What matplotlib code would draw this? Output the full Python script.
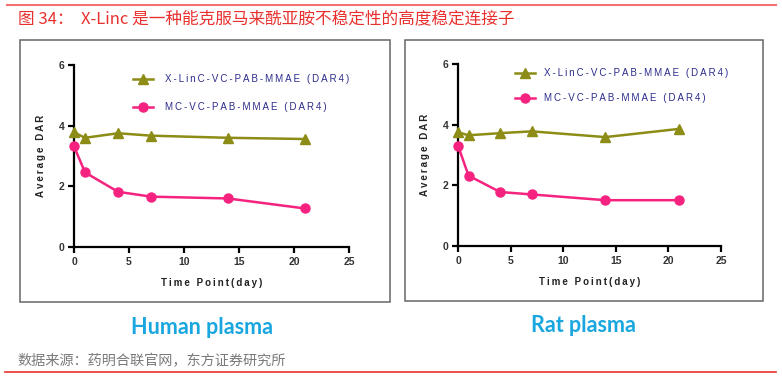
import matplotlib
matplotlib.use('Agg')
import matplotlib.pyplot as plt
from matplotlib.patches import Rectangle
from matplotlib.lines import Line2D

plt.rcParams['font.family'] = ['Noto Sans CJK SC', 'DejaVu Sans']

# data
days = [0, 1, 4, 7, 14, 21]
human_xlinc = [3.78, 3.60, 3.75, 3.67, 3.60, 3.56]
human_mc = [3.32, 2.46, 1.82, 1.66, 1.60, 1.27]
rat_xlinc = [3.75, 3.65, 3.72, 3.78, 3.59, 3.86]
rat_mc = [3.31, 2.32, 1.78, 1.70, 1.51, 1.51]

series_names = ['X-LinC-VC-PAB-MMAE (DAR4)', 'MC-VC-PAB-MMAE (DAR4)']
panel_names = ['Human plasma', 'Rat plasma']
xticks = [0, 5, 10, 15, 20, 25]
yticks = [0, 2, 4, 6]

title = '图 34：  X-Linc 是一种能克服马来酰亚胺不稳定性的高度稳定连接子'
source = '数据来源：药明合联官网，东方证券研究所'

green = '#8c8c16'
pink = '#f5237f'
navy = '#2c2c8c'
latin = ['Liberation Sans', 'DejaVu Sans']


def spaced(s):
    # the original text is drawn with wide letter tracking
    return '\u2009'.join(s)


fig = plt.figure(figsize=(7.82, 3.79), dpi=100)
W, H = 782, 379


def fx(px):
    return px / W


def fy(py):
    return 1 - py / H


# red rules and title
fig.add_artist(Line2D([fx(7), fx(776)], [fy(5), fy(5)], color='#f07272', lw=1.5))
fig.add_artist(Line2D([fx(5), fx(776)], [fy(372), fy(372)], color='#e8312f', lw=1.2))
fig.text(fx(18), fy(19), title, color='#e8312f', fontsize=12, fontweight='medium',
         va='center', ha='left')
fig.text(fx(17), fy(361), source, color='#7a7a7a', fontsize=10.2, va='center', ha='left')

# panel frames
for x0, x1, y0, y1 in [(20, 390, 40, 302), (405, 763, 40, 301)]:
    fig.add_artist(Rectangle((fx(x0), fy(y1)), fx(x1 - x0), (y1 - y0) / H,
                             fill=False, ec='#666666', lw=1.1))

panels = [
    dict(rect=[fx(74), fy(247), fx(275), 182 / H], xl=human_xlinc, mc=human_mc,
         leg=(133, 153, 165, 79, 107), cap=(202, 327)),
    dict(rect=[fx(458), fy(246), fx(263), 182 / H], xl=rat_xlinc, mc=rat_mc,
         leg=(515, 535, 544, 73, 98), cap=(583, 325)),
]

for p, name in zip(panels, panel_names):
    ax = fig.add_axes(p['rect'])
    ax.plot(days, p['xl'], color=green, lw=1.8, marker='^', ms=6.5, clip_on=False, zorder=3)
    ax.plot(days, p['mc'], color=pink, lw=1.8, marker='o', ms=6.5, clip_on=False, zorder=3)
    ax.set_xlim(0, 25)
    ax.set_ylim(0, 6)
    ax.set_xticks(xticks)
    ax.set_yticks(yticks)
    for s in ['top', 'right']:
        ax.spines[s].set_visible(False)
    for s in ['left', 'bottom']:
        ax.spines[s].set_linewidth(1.6)
    ax.tick_params(direction='out', length=4, width=1.6, labelsize=7.5,
                   labelcolor='#333333', pad=3)
    for lab in ax.get_xticklabels() + ax.get_yticklabels():
        lab.set_family(latin)
        lab.set_fontweight('bold')
    ax.set_xlabel(spaced('Time Point(day)'), family=latin, fontsize=7, fontweight='bold',
                  color='#222222', labelpad=8)
    ax.set_ylabel(spaced('Average DAR'), family=latin, fontsize=7, fontweight='bold',
                  color='#222222', labelpad=9)

    # legend drawn in figure pixels
    lx0, lx1, tx, ry1, ry2 = p['leg']
    for (col, mk), ry, nm in zip([(green, '^'), (pink, 'o')], [ry1, ry2], series_names):
        fig.add_artist(Line2D([fx(lx0), fx(lx1)], [fy(ry), fy(ry)], color=col, lw=1.8))
        fig.add_artist(Line2D([fx((lx0 + lx1) / 2)], [fy(ry)], color=col, marker=mk,
                              ms=6.5, lw=0))
        fig.text(fx(tx), fy(ry), spaced(nm), family=latin, fontsize=7, color=navy,
                 va='center', ha='left')

    cx, cy = p['cap']
    fig.text(fx(cx), fy(cy), name, family=['Lato', 'DejaVu Sans'], fontweight='bold',
             fontsize=15.5, color='#1aa7e0', ha='center', va='center')

fig.savefig('out.png', dpi=100)
